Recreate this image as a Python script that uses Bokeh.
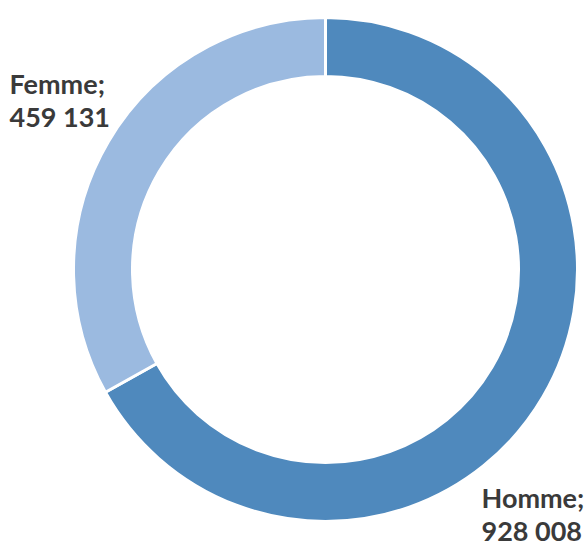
import numpy as np
from bokeh.plotting import figure
from bokeh.models import Range1d, ColumnDataSource
from bokeh.core.properties import value
from bokeh.embed import file_html
from bokeh.resources import INLINE

categories = ["Homme", "Femme"]
values = [928008, 459131]
colors = ["#4F89BD", "#9BBAE0"]

W, H = 587, 545
p = figure(width=W, height=H, output_backend="svg", toolbar_location=None,
           x_range=Range1d(0, W), y_range=Range1d(0, H), min_border=0)
p.axis.visible = False
p.grid.visible = False
p.outline_line_color = None
p.background_fill_color = "white"

cx, cy = 325, H - 269
r_out, r_in = 252, 193

total = sum(values)
fr = np.array(values) / total
ends = np.pi / 2 - 2 * np.pi * np.concatenate([[0], np.cumsum(fr)[:-1]])
starts = ends - 2 * np.pi * fr
src = ColumnDataSource(dict(start=starts, end=ends, color=colors))
p.annular_wedge(x=cx, y=cy, inner_radius=r_in, outer_radius=r_out,
                start_angle="start", end_angle="end", fill_color="color",
                line_color="white", line_width=3, source=src)

def fmt(v):
    return f"{v:,}".replace(",", " ")

labels = [f"{c};\n{fmt(v)}" for c, v in zip(categories, values)]
lx = [481, 9]
ly = [H - 480, H - 66]
p.text(x=lx, y=ly, text=labels, text_font=value("Lato"), text_font_style="bold",
       text_font_size="27px", text_color="#3A3A3A", text_align="left",
       text_baseline="top", text_line_height=1.0)

open("out.html", "w").write(file_html(p, INLINE))
